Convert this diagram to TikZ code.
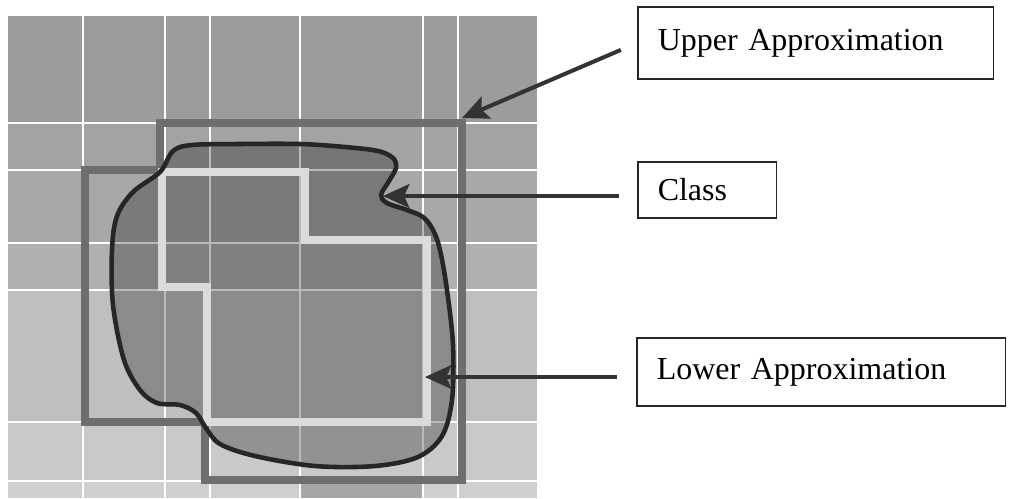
\documentclass[tikz,border=0pt]{standalone}
\usepackage{fontspec}
\setmainfont{Liberation Serif}
\usetikzlibrary{arrows.meta,positioning}

\newcommand{\classoutline}{plot[smooth cycle, tension=0.55] coordinates {
  (160,172) (173,151) (192,145) (240,144) (300,144) (345,147) (378,151) (393,158)
  (396,168) (389,181) (381,195) (387,203) (407,210) (423,217) (433,230) (440,250)
  (447,290) (453,345) (452,400) (442,436) (418,457) (375,466) (315,466) (255,456)
  (220,444) (206,428) (196,413) (180,405) (157,403) (140,390) (124,360) (113,305)
  (112,250) (117,216) (133,192)}}

\begin{document}
\begin{tikzpicture}[x=0.02cm, y=-0.02cm,
    label box/.style={draw=black!85, line width=0.85pt, fill=white, anchor=west,
      align=left, inner xsep=0.4cm, inner ysep=0pt,
      font=\fontsize{18.2}{22}\selectfont},
    pointer/.style={draw=black!80, line width=2.3pt,
      -{Stealth[length=15pt, width=13.5pt, inset=3pt]}}]
  \useasboundingbox[fill=white] (0,0) rectangle (1010,498);

  % grid cells, lighter towards the bottom
  \foreach \ya/\yb/\shade in {16/123/61, 123/170/64, 170/243/66, 243/290/69,
                              290/422/75, 422/481/79, 481/498/81}
    \fill[white!\shade!black] (8,\ya) rectangle (537,\yb);
  \fill[white!65!black] (300,481) rectangle (423,498);
  \foreach \gx in {83,165,210,300,423,458}
    \draw[white, line width=1.3pt] (\gx,16) -- (\gx,498);
  \foreach \gy in {123,170,243,290,422,481}
    \draw[white, line width=1.3pt] (8,\gy) -- (537,\gy);

  % class region
  \fill[black, fill opacity=0.27] \classoutline;

  % upper and lower approximation
  \draw[white!43!black, line width=5pt] (160,123) -- (462,123) -- (462,480)
    -- (205,480) -- (205,422) -- (85,422) -- (85,170) -- (160,170) -- cycle;
  \draw[white!86!black, line width=4.5pt] (162,172) -- (305,172) -- (305,240)
    -- (427,240) -- (427,422) -- (207,422) -- (207,287) -- (162,287) -- cycle;

  \draw[black!85, line width=2.6pt] \classoutline;

  \coordinate (upTip) at (462,118);
  \coordinate (cTip) at (383,196);
  \coordinate (lTip) at (425,377);

  \node[label box, text width=6.32cm, minimum height=1.44cm] (UA) at (637,43) {Upper Approximation};
  \node[label box, text width=1.98cm, minimum height=1.12cm] (C) at (637,190) {Class};
  \node[label box, text width=6.58cm, minimum height=1.36cm] (LA) at (636,372) {Lower Approximation};

  \draw[pointer, shorten <=10pt] (UA.west) -- (upTip);
  \draw[pointer, shorten <=10pt] (cTip -| C.west) -- (cTip);
  \draw[pointer, shorten <=11pt] (lTip -| LA.west) -- (lTip);
\end{tikzpicture}
\end{document}
